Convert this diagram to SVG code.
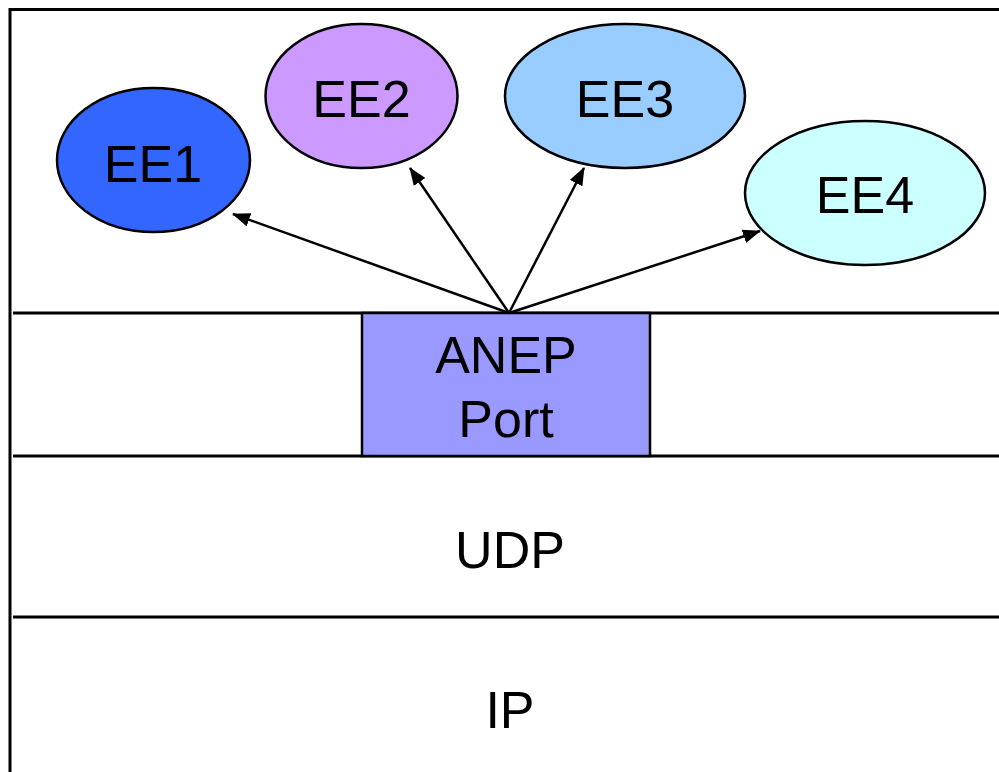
<svg xmlns="http://www.w3.org/2000/svg" width="999" height="772" viewBox="0 0 999 772">
  <style>
    .frame { fill: none; stroke: #000; stroke-width: 3; }
    .layer { stroke: #000; stroke-width: 3; }
    .ee { stroke: #000; stroke-width: 2.5; }
    .lbl { font-family: "Liberation Sans", Arial, sans-serif; font-size: 52px; fill: #000; text-anchor: middle; }
    .conn { stroke: #000; stroke-width: 2.5; fill: none; marker-end: url(#arrow); }
  </style>
  <defs>
    <marker id="arrow" viewBox="0 0 18 14" refX="17" refY="7" markerWidth="18" markerHeight="14" markerUnits="userSpaceOnUse" orient="auto">
      <path d="M0,0 L18,7 L0,14 Z" fill="#000"/>
    </marker>
  </defs>
  <rect width="999" height="772" fill="#fff"/>

  <!-- outer frame (extends past the right and bottom edges) -->
  <rect class="frame" x="10" y="9.5" width="1000" height="780"/>

  <!-- layer separators -->
  <g id="layers">
    <line class="layer" x1="13" y1="313" x2="999" y2="313"/>
    <line class="layer" x1="13" y1="456" x2="999" y2="456"/>
    <line class="layer" x1="13" y1="617" x2="999" y2="617"/>
  </g>

  <g id="anep-port">
    <rect x="362" y="313" width="288" height="143" fill="#9999ff" stroke="#000" stroke-width="2.5"/>
    <text class="lbl" x="506" y="373">ANEP</text>
    <text class="lbl" x="506" y="437">Port</text>
  </g>

  <g id="udp">
    <text class="lbl" x="510" y="568">UDP</text>
  </g>

  <g id="ip">
    <text class="lbl" x="510" y="728">IP</text>
  </g>

  <g id="ee1">
    <ellipse class="ee" cx="153.5" cy="160" rx="96.5" ry="72" fill="#3366ff"/>
    <text class="lbl" x="153" y="182">EE1</text>
  </g>
  <g id="ee2">
    <ellipse class="ee" cx="361.5" cy="96" rx="96" ry="72" fill="#cc99ff"/>
    <text class="lbl" x="361.5" y="117">EE2</text>
  </g>
  <g id="ee3">
    <ellipse class="ee" cx="625" cy="96" rx="120" ry="72" fill="#99ccff"/>
    <text class="lbl" x="625" y="117">EE3</text>
  </g>
  <g id="ee4">
    <ellipse class="ee" cx="865" cy="193" rx="120" ry="72" fill="#ccffff"/>
    <text class="lbl" x="865" y="213">EE4</text>
  </g>

  <!-- connectors from the ANEP port to each execution environment -->
  <g id="connectors">
    <line class="conn" x1="509" y1="313" x2="233" y2="214"/>
    <line class="conn" x1="509" y1="313" x2="410" y2="168"/>
    <line class="conn" x1="509" y1="313" x2="584" y2="168"/>
    <line class="conn" x1="509" y1="313" x2="760" y2="231"/>
  </g>
</svg>
